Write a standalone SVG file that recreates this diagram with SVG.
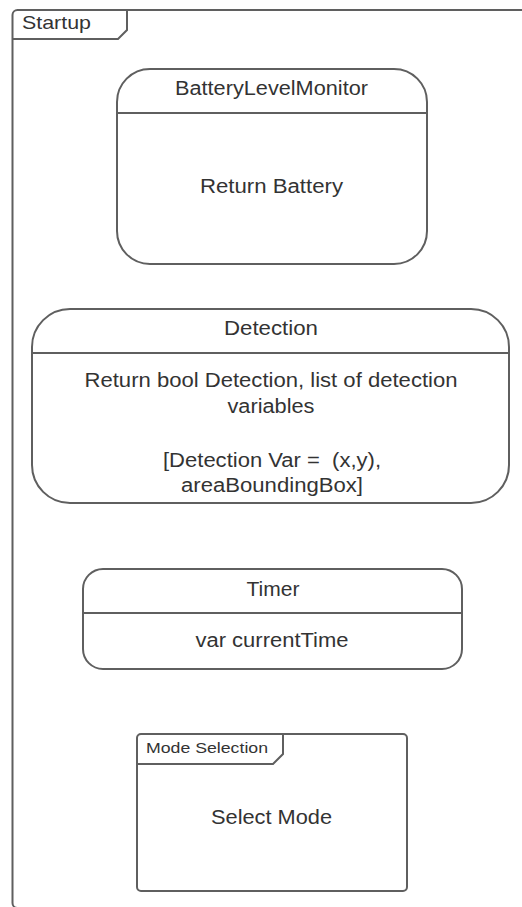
<svg xmlns="http://www.w3.org/2000/svg" width="522" height="907" viewBox="0 0 522 907">
  <style>
    .frame { fill: #ffffff; stroke: #5f5f5f; stroke-width: 2; }
    .line { fill: none; stroke: #5f5f5f; stroke-width: 2; }
    .txt { font-family: "Liberation Sans", Arial, sans-serif; font-size: 20px; fill: #333333; }
    .mid { text-anchor: middle; }
    .small { font-size: 15.5px; }
    .tab { font-size: 18.5px; }
  </style>
  <rect width="522" height="907" fill="#ffffff"/>

  <!-- Startup frame -->
  <g id="startup">
    <rect class="frame" x="12.5" y="10" width="600" height="898" rx="5"/>
    <path class="line" d="M12.5 39 H118 L127 30 V10"/>
    <text class="txt tab" x="22" y="28.5" textLength="69" lengthAdjust="spacingAndGlyphs">Startup</text>
  </g>

  <!-- BatteryLevelMonitor state -->
  <g id="battery-level-monitor">
    <rect class="frame" x="117" y="69" width="310" height="195" rx="33"/>
    <line class="line" x1="117" y1="113" x2="427" y2="113"/>
    <text class="txt mid" x="271.5" y="95" textLength="193" lengthAdjust="spacingAndGlyphs">BatteryLevelMonitor</text>
    <text class="txt mid" x="271.5" y="193" textLength="143" lengthAdjust="spacingAndGlyphs">Return Battery</text>
  </g>

  <!-- Detection state -->
  <g id="detection">
    <rect class="frame" x="32" y="309" width="477" height="194" rx="38"/>
    <line class="line" x1="32" y1="353" x2="509" y2="353"/>
    <text class="txt mid" x="271" y="335" textLength="94" lengthAdjust="spacingAndGlyphs">Detection</text>
    <text class="txt mid" x="271" y="387" textLength="373" lengthAdjust="spacingAndGlyphs">Return bool Detection, list of detection</text>
    <text class="txt mid" x="271" y="413" textLength="87" lengthAdjust="spacingAndGlyphs">variables</text>
    <text class="txt mid" x="272" y="467" textLength="218" lengthAdjust="spacingAndGlyphs" xml:space="preserve">[Detection Var =  (x,y),</text>
    <text class="txt mid" x="272" y="492" textLength="182" lengthAdjust="spacingAndGlyphs">areaBoundingBox]</text>
  </g>

  <!-- Timer state -->
  <g id="timer">
    <rect class="frame" x="83" y="569" width="379" height="100" rx="20"/>
    <line class="line" x1="83" y1="613" x2="462" y2="613"/>
    <text class="txt mid" x="273" y="596" textLength="53" lengthAdjust="spacingAndGlyphs">Timer</text>
    <text class="txt mid" x="272" y="647" textLength="153" lengthAdjust="spacingAndGlyphs">var currentTime</text>
  </g>

  <!-- Mode Selection frame -->
  <g id="mode-selection">
    <rect class="frame" x="137" y="734" width="270" height="157" rx="4"/>
    <path class="line" d="M137 764 H273 L283 754 V734"/>
    <text class="txt small" x="146" y="753" textLength="122" lengthAdjust="spacingAndGlyphs">Mode Selection</text>
    <text class="txt mid" x="271.5" y="824" textLength="121" lengthAdjust="spacingAndGlyphs">Select Mode</text>
  </g>

  <g id="connectors"/>
</svg>
